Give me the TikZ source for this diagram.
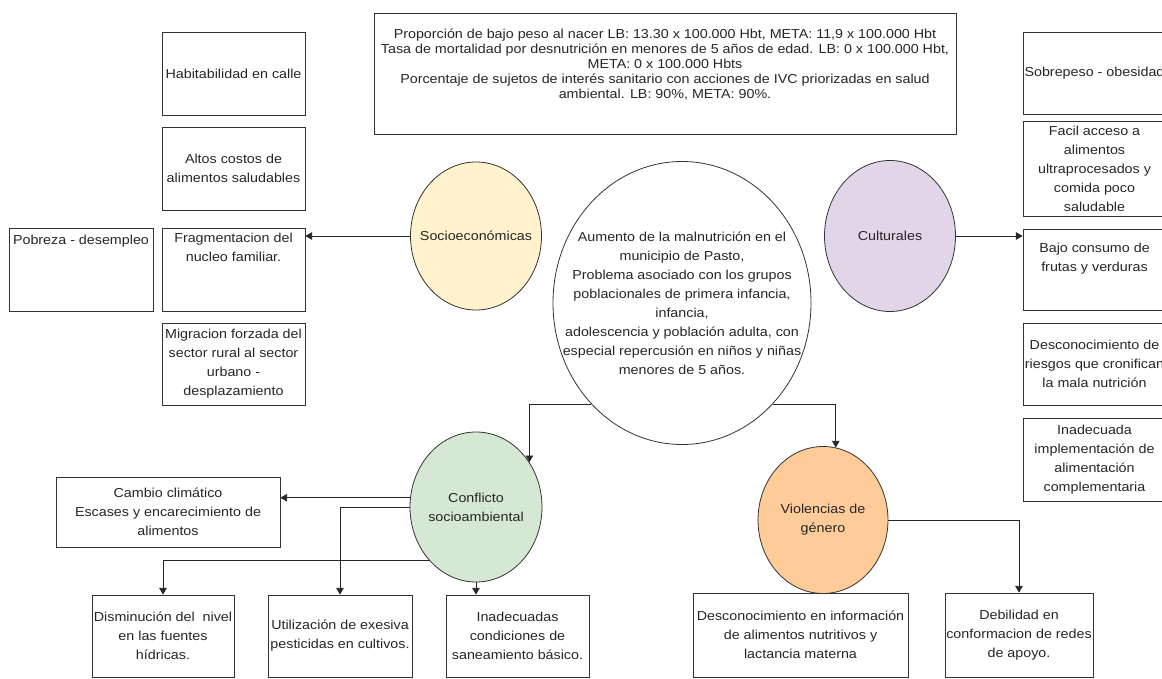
\documentclass[tikz,border=0pt]{standalone}
\usepackage{fontspec}
\setmainfont{Liberation Sans}[FakeStretch=1.1]
\usetikzlibrary{arrows,shapes.geometric}

\definecolor{amarillo}{HTML}{FFF2CC}
\definecolor{lila}{HTML}{E1D5E7}
\definecolor{verde}{HTML}{D5E8D4}
\definecolor{naranja}{HTML}{FFCC99}

\begin{document}
\begin{tikzpicture}[x=1pt,y=-1pt,
  every node/.style={font=\fontsize{13}{19}\selectfont, text=black!85},
  caja/.style={draw=black!80, line width=0.8pt, rectangle, align=center, inner sep=0pt},
  globo/.style={draw=black!80, line width=0.8pt, ellipse, inner sep=0pt},
  flecha/.style={draw=black!85, line width=0.8pt, -triangle 60}]

\useasboundingbox (0,0) rectangle (1162,679);

% indicadores
\node[caja, minimum width=582, minimum height=121,
  label={[align=center,yshift=9pt,font=\fontsize{13}{15}\selectfont]center:Proporción de bajo peso al nacer LB: 13.30 x 100.000 Hbt, META: 11,9 x 100.000 Hbt\\
   Tasa de mortalidad por desnutrición en menores de 5 años de edad. LB: 0 x 100.000 Hbt,\\
   META: 0 x 100.000 Hbts\\
   Porcentaje de sujetos de interés sanitario con acciones de IVC priorizadas en salud\\
   ambiental. LB: 90\%, META: 90\%.}] (meta) at (665,73.5) {};

% problema central y causas
\node[globo, minimum width=258, minimum height=283,
  label={[align=center]center:Aumento de la malnutrición en el\\municipio de Pasto,\\Problema asociado con los grupos\\poblacionales de primera infancia,\\infancia,\\adolescencia y población adulta, con\\especial repercusión en niños y niñas\\menores de 5 años.}] (cent) at (682,303) {};
\node[globo, fill=amarillo, minimum width=131, minimum height=148, label={center:Socioeconómicas}] (soc) at (476,236) {};
\node[globo, fill=lila, minimum width=131, minimum height=151, label={center:Culturales}] (cult) at (890,236) {};
\node[globo, fill=verde, minimum width=132, minimum height=150, label={[align=center]center:Conflicto\\socioambiental}] (conf) at (476,507) {};
\node[globo, fill=naranja, minimum width=130, minimum height=147, label={[align=center]center:Violencias de\\género}] (viol) at (823,520) {};

% socioeconomicas
\node[caja, minimum width=143, minimum height=83] (habit) at (233.5,73.5) {Habitabilidad en calle};
\node[caja, minimum width=143, minimum height=83] (altos) at (233.5,168.5) {Altos costos de\\alimentos saludables};
\node[caja, minimum width=143, minimum height=83, label={[align=center,yshift=22pt]center:Fragmentacion del\\nucleo familiar.}] (frag) at (233.5,269.5) {};
\node[caja, minimum width=144, minimum height=83, label={[yshift=28pt]center:Pobreza - desempleo}] (pobre) at (81,269.5) {};
\node[caja, minimum width=143, minimum height=82] (migra) at (233.5,364) {Migracion forzada del\\sector rural al sector\\urbano -\\desplazamiento};

% culturales
\node[caja, minimum width=143, minimum height=82] (sobre) at (1094.5,73) {Sobrepeso - obesidad};
\node[caja, minimum width=143, minimum height=95] (facil) at (1094.5,168.5) {Facil acceso a\\alimentos\\ultraprocesados y\\comida poco\\saludable};
\node[caja, minimum width=143, minimum height=81, label={[align=center,yshift=11pt]center:Bajo consumo de\\frutas y verduras}] (bajo) at (1094.5,269.5) {};
\node[caja, minimum width=143, minimum height=82] (riesg) at (1094.5,364) {Desconocimiento de\\riesgos que cronifican\\la mala nutrición};
\node[caja, minimum width=143, minimum height=83] (compl) at (1094.5,459.5) {Inadecuada\\implementación de\\alimentación\\complementaria};

% conflicto socioambiental
\node[caja, minimum width=224, minimum height=70] (camb) at (168,512) {Cambio climático\\Escases y encarecimiento de\\alimentos};
\node[caja, minimum width=142, minimum height=82] (dism) at (163,636) {Disminución del\ \ nivel\\en las fuentes\\hídricas.};
\node[caja, minimum width=144, minimum height=82] (util) at (340,636) {Utilización de exesiva\\pesticidas en cultivos.};
\node[caja, minimum width=143, minimum height=82] (inad) at (517.5,636) {Inadecuadas\\condiciones de\\saneamiento básico.};

% violencias de genero
\node[caja, minimum width=215, minimum height=84] (lact) at (800.5,635) {Desconocimiento en información\\de alimentos nutritivos y\\lactancia materna};
\node[caja, minimum width=148, minimum height=84] (debil) at (1019,635) {Debilidad en\\conformacion de redes\\de apoyo.};

\draw[flecha] (soc.west) -- (soc.west -| frag.east);
\draw[flecha] (cult.east) -- (cult.east -| bajo.west);
\draw[flecha] (cent.228) -| (conf.40);
\draw[flecha] (cent.-48) -| (viol.80);
\draw[flecha] (conf.172) -- (conf.172 -| camb.east);
\draw[flecha] (conf.west) -| (util.north);
\draw[flecha] (conf.229) -| (dism.north);
\draw[flecha] (conf.south) -- (conf.south |- inad.north);
\draw[flecha] (viol.east) -| (debil.north);
\end{tikzpicture}
\end{document}
